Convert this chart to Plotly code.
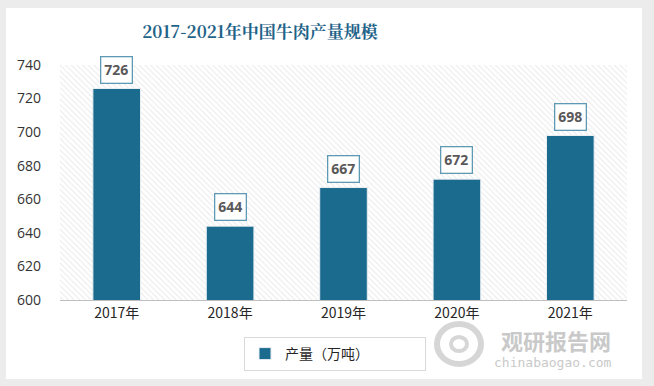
import plotly.graph_objects as go

years = ["2017年", "2018年", "2019年", "2020年", "2021年"]
production = [726, 644, 667, 672, 698]
y_ticks = [600, 620, 640, 660, 680, 700, 720, 740]
y_range = [600, 740]
series_name = "产量（万吨）"
title_text = "2017-2021年中国牛肉产量规模"

bar_color = "#1b6b8f"

fig = go.Figure()
# hatched plot-area background (decoration spanning the axis range)
fig.add_trace(go.Bar(
    x=[0], y=[y_range[1] - y_range[0]], base=[y_range[0]], width=[1],
    xaxis="x2", yaxis="y", showlegend=False, hoverinfo="skip",
    marker=dict(color="white", line=dict(width=0),
                pattern=dict(shape="\\", fgcolor="#d4d4d4", bgcolor="white",
                             size=4, solidity=0.25)),
))
fig.add_trace(go.Bar(
    x=years, y=production, name=series_name,
    xaxis="x", yaxis="y",
    marker=dict(color=bar_color, line=dict(color="#e8eef2", width=1)),
    width=0.42, showlegend=True,
))

for yr, v in zip(years, production):
    fig.add_annotation(
        x=yr, y=v, xref="x", yref="y", text=f"<b>{v}</b>", showarrow=False,
        yanchor="bottom", yshift=5,
        font=dict(family="Open Sans, Noto Sans, sans-serif", size=14, color="#595959"),
        bgcolor="white", bordercolor="#5f9ab4", borderwidth=1.3, borderpad=3,
    )

# card background
W, H = 654, 386
ml, mr, mt, mb = 60, 27, 65, 86
pw, ph = W - ml - mr, H - mt - mb
def px(x): return (x - ml) / pw
def py(y): return (H - mb - y) / ph
fig.add_shape(type="rect", xref="paper", yref="paper",
              x0=px(6), x1=px(642), y0=py(379), y1=py(8),
              fillcolor="white", line=dict(width=0), layer="below")

# watermark
fig.add_annotation(xref="paper", yref="paper", x=px(556), y=py(340),
                   xanchor="center", yanchor="middle",
                   text="<b>观研报告网</b>", showarrow=False,
                   font=dict(family="Noto Sans CJK SC", size=22, color="#c9c9c9"))
fig.add_annotation(xref="paper", yref="paper", x=px(553), y=py(362),
                   xanchor="center", yanchor="middle",
                   text="chinabaogao.com", showarrow=False,
                   font=dict(family="DejaVu Sans Mono, DejaVu Sans", size=13, color="#c9c9c9"))
fig.add_shape(type="circle", xref="paper", yref="paper",
              x0=px(437), x1=px(481), y0=py(364), y1=py(324),
              line=dict(color="#d6d6d6", width=6), fillcolor="rgba(0,0,0,0)")
fig.add_shape(type="circle", xref="paper", yref="paper",
              x0=px(451), x1=px(467), y0=py(351), y1=py(337),
              line=dict(color="#d6d6d6", width=4), fillcolor="rgba(0,0,0,0)")

fig.update_layout(
    width=W, height=H,
    margin=dict(l=ml, r=mr, t=mt, b=mb),
    paper_bgcolor="#ececec",
    plot_bgcolor="white",
    barmode="overlay",
    title=dict(text=f"<b>{title_text}</b>", x=260 / W, xanchor="center",
               y=1 - 32 / H, yanchor="middle",
               font=dict(family="Noto Serif CJK SC, Noto Sans CJK SC", size=17, color="#1f6388")),
    xaxis2=dict(range=[-0.5, 0.5], visible=False, showgrid=False, zeroline=False,
                fixedrange=True),
    xaxis=dict(overlaying="x2", showgrid=False, showline=True, linecolor="#bfbfbf", linewidth=1,
               ticks="", side="bottom",
               tickfont=dict(family="Noto Sans CJK SC", size=14, color="#262626")),
    yaxis=dict(range=y_range, tickvals=y_ticks, showgrid=False, zeroline=False,
               showline=False, ticks="", ticklabelstandoff=18,
               tickfont=dict(family="Open Sans, Noto Sans", size=14, color="#333333")),
    legend=dict(orientation="h", x=px(335), y=py(354), xanchor="center", yanchor="middle",
                bgcolor="white", bordercolor="#d9d9d9", borderwidth=1, entrywidth=135,
                font=dict(family="Noto Sans CJK SC", size=14, color="#262626")),
)

fig.write_html("out.html", post_script="document.body.style.margin='0';",
               config={"displayModeBar": False})
